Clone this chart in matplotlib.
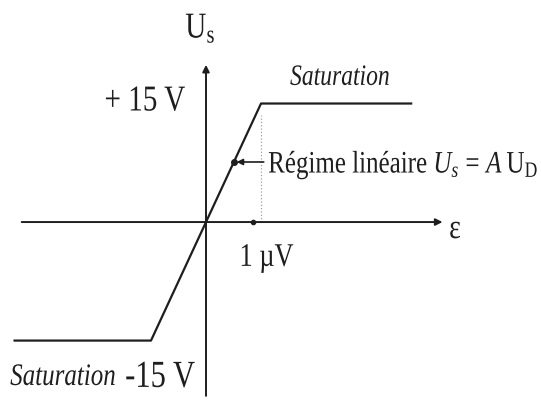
import matplotlib
matplotlib.use("Agg")
import matplotlib.pyplot as plt
from matplotlib.patheffects import AbstractPathEffect
from matplotlib.transforms import Affine2D

plt.rcParams['font.family'] = ['Liberation Serif', 'DejaVu Serif']
plt.rcParams['mathtext.fontset'] = 'custom'
plt.rcParams['mathtext.rm'] = 'Liberation Serif'
plt.rcParams['mathtext.it'] = 'Liberation Serif:italic'

# transfer characteristic of the op-amp (eps in uV, Us in V)
eps_uV = [-3.5, -1.0, 1.0, 3.75]
us_V = [-15, -15, 15, 15]
v_sat = 15
eps_lin = 1.0          # end of linear region, 1 uV
u_mark = 7.6           # where the "linear regime" arrow points

ink = '#1e1e1e'


class Tall(AbstractPathEffect):
    """Stretch glyphs vertically around their own middle (narrow, tall type)."""
    def __init__(self, sy=1.25):
        super().__init__()
        self.sy = sy

    def draw_path(self, renderer, gc, tpath, affine, rgbFace=None):
        ext = tpath.get_extents(affine)
        cy = 0.5 * (ext.y0 + ext.y1)
        t = affine + Affine2D().translate(0, -cy).scale(1, self.sy).translate(0, cy)
        renderer.draw_path(gc, tpath, t, rgbFace)


tall = [Tall(1.25)]

fig = plt.figure(figsize=(5.41, 4.03), dpi=100)
ax = fig.add_axes([0, 0, 1, 1])
ax.set_xlim(-3.745, 6.09)
ax.set_ylim(-22.9, 28.1)
ax.axis('off')

# axes with arrow heads
ax.annotate('', xy=(4.3, 0), xytext=(-3.35, 0),
            arrowprops=dict(arrowstyle='-|>', color=ink, lw=1.4,
                            mutation_scale=10, shrinkA=0, shrinkB=0))
ax.annotate('', xy=(0, 19.9), xytext=(0, -22.0),
            arrowprops=dict(arrowstyle='-|>', color=ink, lw=1.4,
                            mutation_scale=10, shrinkA=0, shrinkB=0))

# curve
ax.plot(eps_uV, us_V, color=ink, lw=1.6, solid_capstyle='butt')

# dotted guide at 1 uV and tick on the eps axis
ax.plot([eps_lin, eps_lin], [0, v_sat - 1.5], color='#a0a0a0', lw=0.9, ls=':')
ax.plot([eps_lin * 0.85], [0], marker='o', ms=3, color=ink)

# arrow towards the linear part
x_mark = u_mark / v_sat * eps_lin
ax.plot([x_mark], [u_mark], marker='o', ms=4, color=ink)
ax.annotate('', xy=(x_mark + 0.05, u_mark), xytext=(1.05, u_mark),
            arrowprops=dict(arrowstyle='-|>', color=ink, lw=1.2,
                            mutation_scale=9, shrinkA=0, shrinkB=0))

# labels
ax.text(-0.1, 24.5, r'$\mathrm{U_s}$', fontsize=21, ha='center', va='center',
        color=ink, path_effects=tall)
ax.text(-0.38, 15.3, '+ 15 V', fontsize=21, ha='right', va='center',
        color=ink, path_effects=tall)
ax.text(2.44, 18.3, 'Saturation', fontsize=17, style='italic',
        ha='center', va='center', color=ink, path_effects=tall)
ax.text(1.13, u_mark - 0.4, r'Régime linéaire $U_s\,=\,A\;\mathrm{U}_{\mathrm{D}}$',
        fontsize=18, ha='left', va='center', color=ink, path_effects=tall)
ax.text(1.1, -4.6, '1 µV', fontsize=19, ha='center', va='center',
        color=ink, path_effects=tall)
ax.text(4.42, -1.0, 'ε', fontsize=20, ha='left', va='center',
        color=ink, path_effects=tall)
ax.text(-3.56, -19.6, 'Saturation', fontsize=18, style='italic',
        ha='left', va='center', color=ink, path_effects=tall)
ax.text(-1.47, -19.6, '-15 V', fontsize=22, ha='left', va='center',
        color=ink, path_effects=tall)

fig.savefig('out.png', dpi=100)
